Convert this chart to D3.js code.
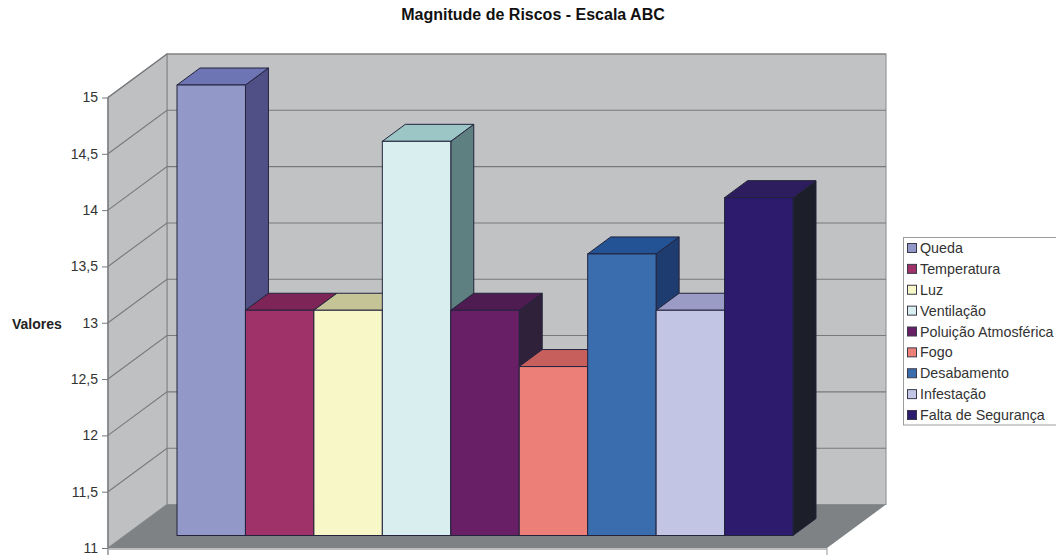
<!DOCTYPE html>
<html lang="pt">
<head>
<meta charset="utf-8">
<script src="https://cdn.jsdelivr.net/npm/d3@7/dist/d3.min.js"></script>
<style>
  html, body { margin: 0; padding: 0; background: #fff; }
  svg { display: block; font-family: "Liberation Sans", Arial, sans-serif; }
</style>
</head>
<body>
<svg id="chart" width="1056" height="558"></svg>
<script>
// Risk magnitudes on the ABC scale
const categories = ["Queda", "Temperatura", "Luz", "Ventilação", "Poluição Atmosférica", "Fogo", "Desabamento", "Infestação", "Falta de Segurança"];
const values = [15, 13, 13, 14.5, 13, 12.5, 13.5, 13, 14];
const faceColors = ["#9299c9", "#9f3268", "#f8f7c8", "#d9eeef", "#691f66", "#ec8079", "#3a6dae", "#c2c6e4", "#2d1b6e"];
const topColors = ["#6e75b4", "#7c2556", "#c5c497", "#9cc5c5", "#4f1c52", "#c7605d", "#235394", "#9a9cc6", "#2e1d5e"];
const sideColors = ["#515086", "#6e1a48", "#8e8e72", "#5f8080", "#30213a", "#8f4a48", "#1e3c70", "#77789c", "#1c1e29"];
const tickValues = [11, 11.5, 12, 12.5, 13, 13.5, 14, 14.5, 15];

const svg = d3.select("#chart");
const fmt = v => String(v).replace(".", ",");

// Front plane of the box; the wall and bars are offset from it by projection
const y = d3.scaleLinear().domain([11, 15]).range([548, 97.5]);
const boxX = [108, 827];
const wall = { dx: 59, dy: -43.5 };   // depth of the whole box
const barPlane = { dx: 0, dy: -12.5 }; // where the bar fronts stand on the floor
const barDepth = { dx: 23, dy: -17 };
const x = d3.scaleBand().domain(categories).range([177, 793]).padding(0);

const poly = pts => pts.map(p => p.join(",")).join(" ");
const axisColor = "#77797b";

// Back wall
const yMin = y(11), yMax = y(15);
svg.append("polygon")
  .attr("points", poly([[boxX[0] + wall.dx, yMax + wall.dy], [boxX[1] + wall.dx, yMax + wall.dy], [boxX[1] + wall.dx, yMin + wall.dy], [boxX[0] + wall.dx, yMin + wall.dy]]))
  .attr("fill", "#c0c2c4").attr("stroke", "#96989a").attr("stroke-width", 1.2);

// Side wall
svg.append("polygon")
  .attr("points", poly([[boxX[0], yMax], [boxX[0] + wall.dx, yMax + wall.dy], [boxX[0] + wall.dx, yMin + wall.dy], [boxX[0], yMin]]))
  .attr("fill", "#bec0c2").attr("stroke", "#8b8d8f").attr("stroke-width", 1.2);

// Floor
svg.append("polygon")
  .attr("points", poly([[boxX[0], yMin], [boxX[1], yMin], [boxX[1] + wall.dx, yMin + wall.dy], [boxX[0] + wall.dx, yMin + wall.dy]]))
  .attr("fill", "#7f8284");

// Gridlines on both walls
const grid = tickValues.slice(1);
svg.append("g").selectAll("path").data(grid).join("path")
  .attr("d", d => `M${boxX[0]},${y(d)}L${boxX[0] + wall.dx},${y(d) + wall.dy}L${boxX[1] + wall.dx},${y(d) + wall.dy}`)
  .attr("fill", "none").attr("stroke", "#77797b").attr("stroke-width", 1.1);

// Left axis with ticks and comma decimals
const axisG = svg.append("g").attr("transform", `translate(${boxX[0]},0)`)
  .call(d3.axisLeft(y).tickValues(tickValues).tickFormat(fmt).tickSize(6).tickPadding(4));
axisG.select(".domain").remove();
axisG.selectAll("line").attr("stroke", axisColor);
axisG.selectAll("text").attr("font-size", 14).attr("fill", "#333").attr("font-family", "Liberation Sans, Arial, sans-serif");

svg.append("line").attr("x1", boxX[0]).attr("x2", boxX[0]).attr("y1", yMax).attr("y2", yMin + 7)
  .attr("stroke", axisColor).attr("stroke-width", 1.2);
svg.append("line").attr("x1", boxX[0]).attr("x2", boxX[1]).attr("y1", yMin + 1).attr("y2", yMin + 1)
  .attr("stroke", "#a6a8aa").attr("stroke-width", 1.5);
svg.append("line").attr("x1", boxX[1]).attr("x2", boxX[1]).attr("y1", yMin).attr("y2", yMin + 7)
  .attr("stroke", "#a6a8aa").attr("stroke-width", 1.2);

// Bars, each with front, top and side faces
const barStroke = "#23233c";
const bars = svg.append("g").selectAll("g").data(categories.map((c, i) => ({ c, v: values[i], i }))).join("g");

bars.append("polygon").attr("points", d => {
  const x1 = x(d.c) + x.bandwidth(), t = y(d.v) + barPlane.dy, b = yMin + barPlane.dy;
  return poly([[x1, t], [x1 + barDepth.dx, t + barDepth.dy], [x1 + barDepth.dx, b + barDepth.dy], [x1, b]]);
}).attr("fill", d => sideColors[d.i]).attr("stroke", barStroke).attr("stroke-width", 1);

bars.append("polygon").attr("points", d => {
  const x0 = x(d.c), x1 = x0 + x.bandwidth(), t = y(d.v) + barPlane.dy;
  return poly([[x0, t], [x0 + barDepth.dx, t + barDepth.dy], [x1 + barDepth.dx, t + barDepth.dy], [x1, t]]);
}).attr("fill", d => topColors[d.i]).attr("stroke", barStroke).attr("stroke-width", 1);

bars.append("rect")
  .attr("x", d => x(d.c)).attr("width", x.bandwidth())
  .attr("y", d => y(d.v) + barPlane.dy)
  .attr("height", d => yMin - y(d.v))
  .attr("fill", d => faceColors[d.i]).attr("stroke", barStroke).attr("stroke-width", 1);

// Title and axis name
svg.append("text").attr("x", 533).attr("y", 20).attr("text-anchor", "middle")
  .attr("font-size", 16).attr("font-weight", "bold").attr("fill", "#111")
  .text("Magnitude de Riscos - Escala ABC");
svg.append("text").attr("x", 12).attr("y", 328.5)
  .attr("font-size", 14).attr("font-weight", "bold").attr("fill", "#222")
  .text("Valores");

// Legend
const legendY = d3.scalePoint().domain(categories).range([248, 415]);
svg.append("rect").attr("x", 903.5).attr("y", 237.5).attr("width", 160).attr("height", 187.5)
  .attr("fill", "#fff").attr("stroke", "#9a9c9e").attr("stroke-width", 1);
const legend = svg.append("g").selectAll("g").data(categories.map((c, i) => ({ c, i }))).join("g")
  .attr("transform", d => `translate(0,${legendY(d.c)})`);
legend.append("rect").attr("x", 907.5).attr("y", -4.5).attr("width", 9).attr("height", 9)
  .attr("fill", d => faceColors[d.i]).attr("stroke", "#3a3a4a").attr("stroke-width", 1);
legend.append("text").attr("x", 920).attr("y", 5)
  .attr("font-size", 14.3).attr("fill", "#333").text(d => d.c);
</script>
</body>
</html>
